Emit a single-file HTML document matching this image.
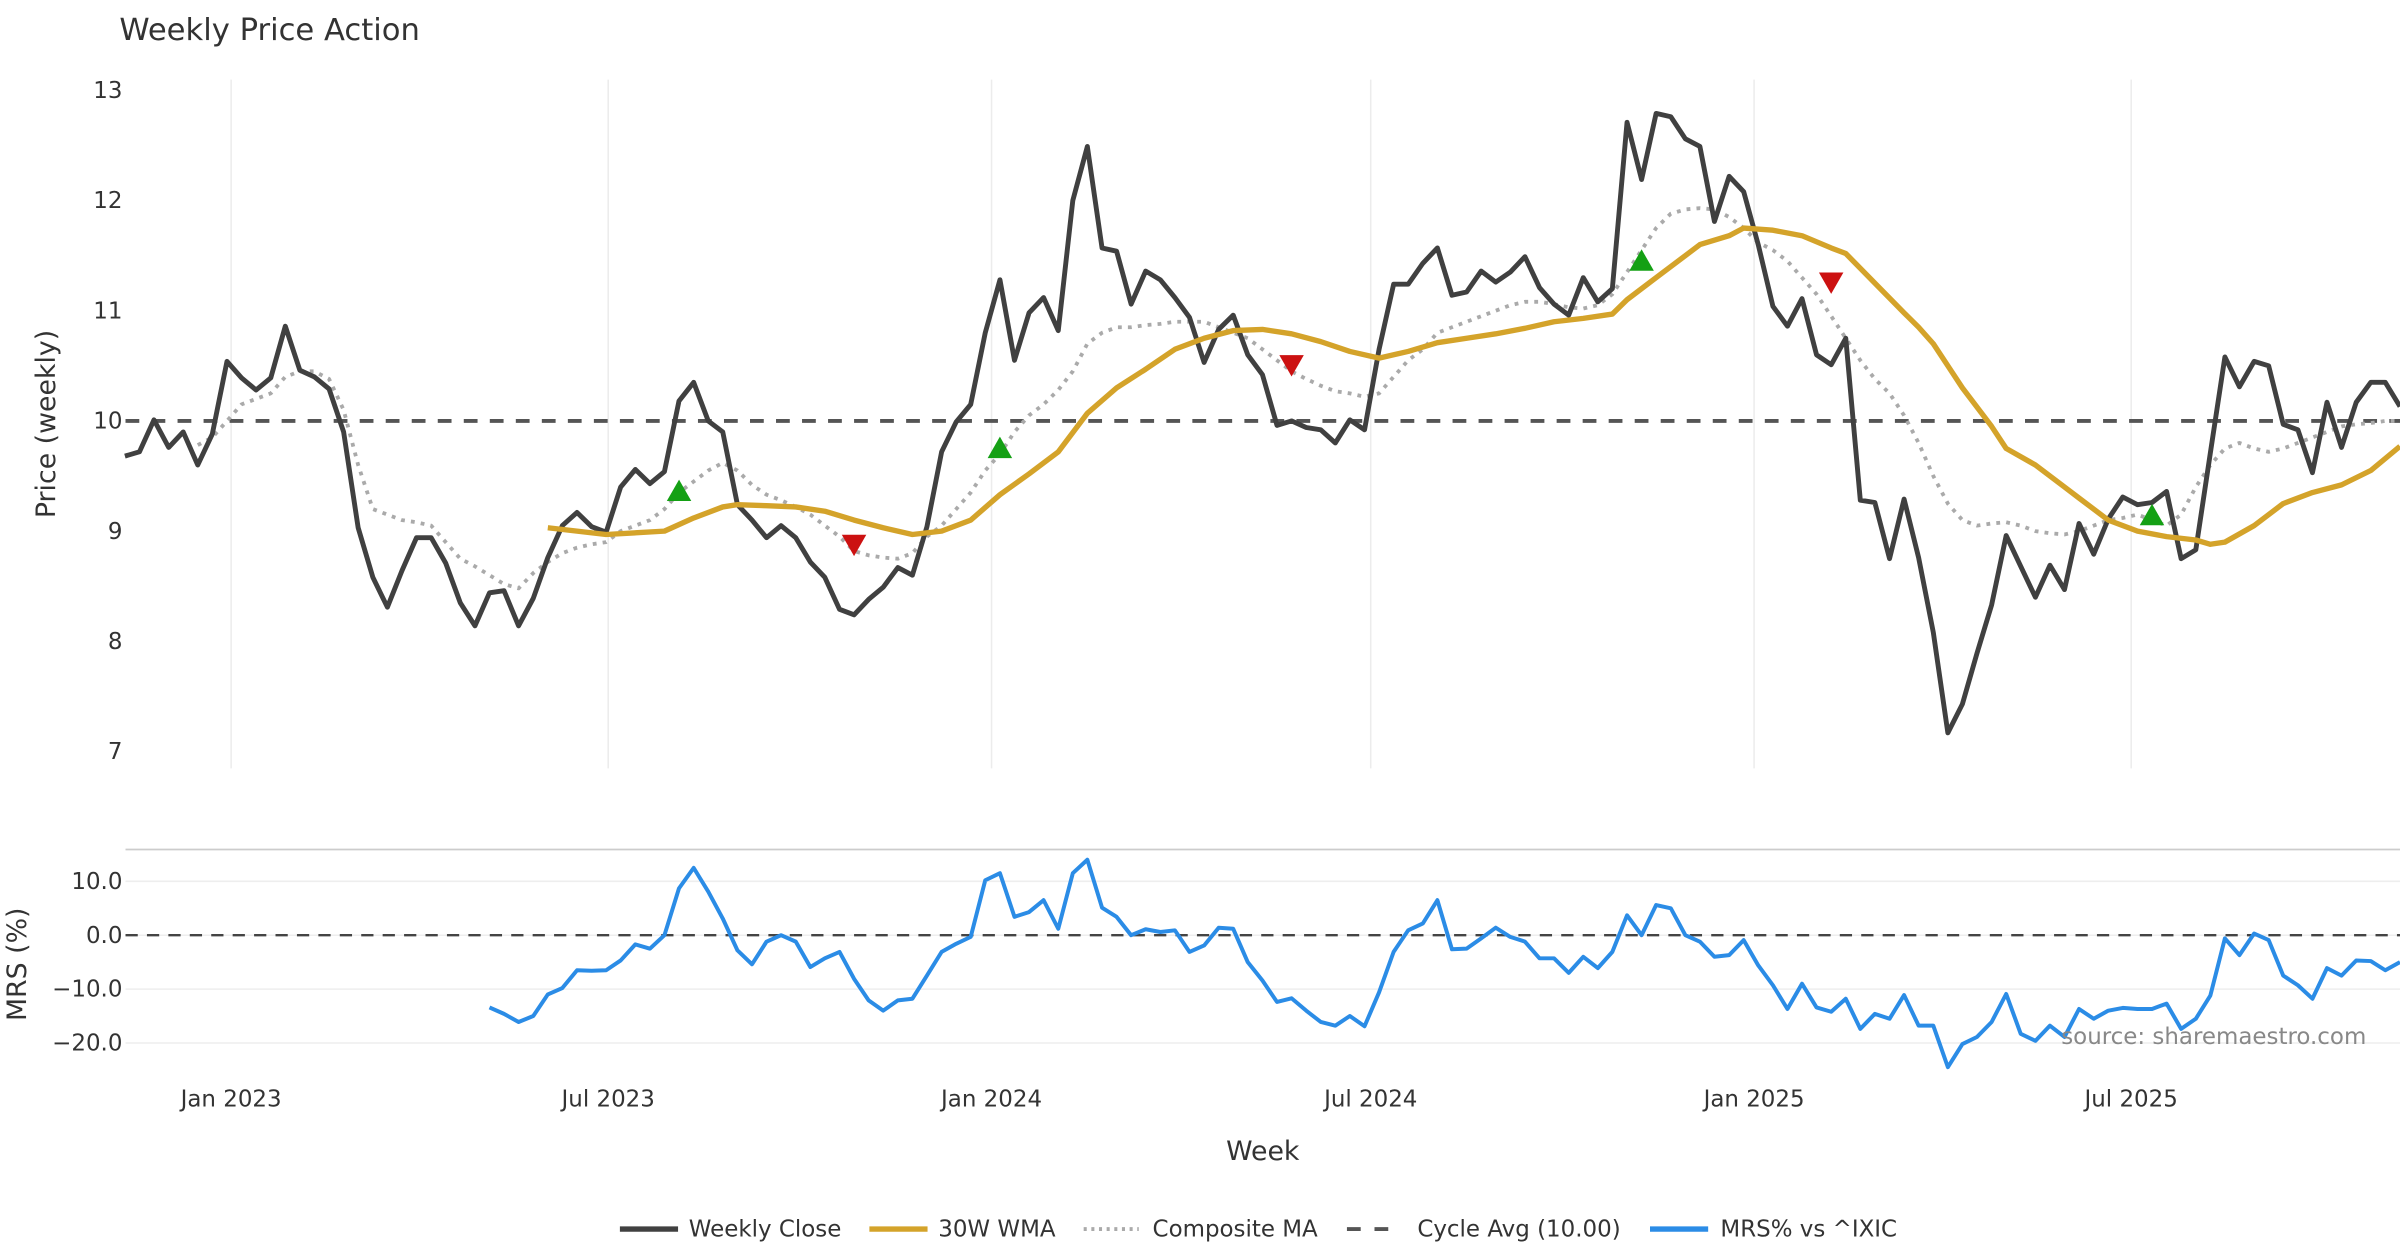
<!DOCTYPE html>
<html><head><meta charset="utf-8"><style>
html,body{margin:0;padding:0;background:#fff;}
svg{display:block;font-family:"DejaVu Sans","Liberation Sans",sans-serif;}
</style></head><body>
<svg id="chart" width="2400" height="1260" viewBox="0 0 1568 823.2" xmlns="http://www.w3.org/2000/svg">
<text x="78" y="26" font-size="20" fill="#333">Weekly Price Action</text>
<g id="grid"></g>
<g id="series"></g>
<text transform="translate(36,277) rotate(-90)" text-anchor="middle" font-size="17.5" fill="#333">Price (weekly)</text>
<text transform="translate(17,630) rotate(-90)" text-anchor="middle" font-size="17.5" fill="#333">MRS (%)</text>
<text x="825" y="758" text-anchor="middle" font-size="17.5" fill="#333">Week</text>
<text x="1546" y="682" text-anchor="end" font-size="15" fill="#888">source: sharemaestro.com</text>
<g id="legend" font-size="15" fill="#333">
<g><line x1="405" y1="803" x2="443" y2="803" stroke="#404040" stroke-width="3.5"/><text x="450" y="808">Weekly Close</text></g>
<g><line x1="568" y1="803" x2="606" y2="803" stroke="#d4a32a" stroke-width="3.5"/><text x="613" y="808">30W WMA</text></g>
<g><line x1="708" y1="803" x2="744" y2="803" stroke="#aaa" stroke-width="2.5" stroke-dasharray="2,3"/><text x="753" y="808">Composite MA</text></g>
<g><line x1="880" y1="803" x2="916" y2="803" stroke="#555" stroke-width="2.5" stroke-dasharray="9,9"/><text x="926" y="808">Cycle Avg (10.00)</text></g>
<g><line x1="1078" y1="803" x2="1116" y2="803" stroke="#2b8ce6" stroke-width="3.5"/><text x="1124" y="808">MRS% vs ^IXIC</text></g>
</g>
</svg>
<script>
const closeValues=[9.68,9.72,10.01,9.76,9.90,9.6,9.88,10.54,10.39,10.28,10.39,10.86,10.46,10.40,10.29,9.9,9.03,8.58,8.31,8.64,8.94,8.94,8.71,8.35,8.14,8.44,8.46,8.14,8.39,8.76,9.05,9.17,9.04,8.99,9.40,9.56,9.43,9.54,10.18,10.35,10.0,9.9,9.24,9.1,8.94,9.05,8.94,8.72,8.58,8.29,8.24,8.38,8.49,8.67,8.6,
9.04,9.72,9.99,10.15,10.8,11.28,10.55,10.98,11.12,10.82,12.0,12.49,11.57,11.54,11.06,11.36,11.28,11.12,10.94,
10.53,10.83,10.96,10.6,10.42,9.96,10.0,9.94,9.92,9.8,10.01,9.92,10.65,11.24,11.24,11.43,11.57,11.14,11.17,11.36,11.26,11.35,11.49,11.21,11.06,10.96,11.3,11.08,11.2,12.71,12.19,12.79,12.76,12.56,12.49,11.81,12.22,12.08,11.6,11.04,10.86,11.11,10.6,10.51,10.75,9.28,9.26,8.75,9.29,8.76,8.08,7.17,7.43,7.89,8.33,8.96,8.68,8.4,8.69,8.47,9.07,8.79,9.11,9.31,9.24,9.26,9.36,8.75,8.83,9.71,10.58,10.31,10.54,10.5,9.97,9.92,9.53,10.17,9.76,10.17,10.35,10.35,10.13];
const wmaWeeks=[29,33,37,39,41,42,44,46,48,50,52,54,56,58,60,62,64,66,68,70,72,74,76,78,80,82,84,86,88,90,92,94,96,98,100,102,103,105,107,108,110,111,113,115,117,118,120,122,123,124,125,126,128,129,131,133,134,136,138,140,142,143,144,146,148,150,152,154,156];
const wmaValues=[9.03,8.97,9.0,9.12,9.22,9.24,9.23,9.22,9.18,9.1,9.03,8.97,9.0,9.1,9.33,9.52,9.72,10.07,10.3,10.47,10.65,10.75,10.82,10.83,10.79,10.72,10.63,10.57,10.63,10.71,10.75,10.79,10.84,10.9,10.93,10.97,11.1,11.3,11.5,11.6,11.68,11.75,11.73,11.68,11.57,11.52,11.25,10.98,10.85,10.7,10.5,10.3,9.95,9.75,9.6,9.4,9.3,9.1,9.0,8.95,8.92,8.88,8.9,9.05,9.25,9.35,9.42,9.55,9.77];
const compositeStart=5;
const compositeValues=[9.78,9.85,10.0,10.15,10.2,10.25,10.4,10.45,10.45,10.38,10.1,9.6,9.2,9.15,9.1,9.08,9.05,8.9,8.75,8.68,8.6,8.52,8.48,8.62,8.72,8.8,8.85,8.88,8.9,9.0,9.05,9.1,9.2,9.35,9.45,9.55,9.62,9.55,9.42,9.33,9.28,9.22,9.15,9.05,8.95,8.82,8.78,8.76,8.75,8.8,8.95,9.05,9.2,9.35,9.55,9.7,9.9,10.05,10.15,10.28,10.45,10.7,10.8,10.85,10.85,10.87,10.88,10.9,10.9,10.9,10.85,10.8,10.75,10.65,10.55,10.45,10.38,10.32,10.27,10.25,10.22,10.25,10.4,10.55,10.65,10.8,10.85,10.9,10.95,11.0,11.05,11.08,11.08,11.06,11.03,11.02,11.05,11.15,11.35,11.55,11.75,11.88,11.92,11.93,11.92,11.85,11.75,11.62,11.55,11.45,11.3,11.15,10.95,10.75,10.55,10.38,10.25,10.05,9.8,9.5,9.25,9.1,9.05,9.07,9.08,9.05,9.0,8.98,8.97,9.0,9.05,9.1,9.12,9.15,9.1,9.05,9.15,9.4,9.6,9.75,9.8,9.75,9.72,9.75,9.8,9.85,9.9,9.95,9.97,9.98,10.0,10.0];
const buyWeeks=[38,60,104,139];
const buyValues=[9.37,9.76,11.46,9.15];
const sellWeeks=[50,80,117];
const sellValues=[8.87,10.5,11.25];
const mrsStart=25;
const mrsValues=[-13.4,-14.6,-16.1,-15,-11,-9.8,-6.5,-6.6,-6.5,-4.7,-1.7,-2.5,0,8.7,12.5,8.1,3.1,-2.8,-5.4,-1.2,0,-1.2,-5.9,-4.3,-3.1,-8.1,-12.1,-14,-12.1,-11.8,-7.5,-3.1,-1.6,-0.3,10.2,11.5,3.4,4.3,6.5,1.2,11.5,14,5.1,3.4,0,1.1,0.6,0.9,-3.1,-1.9,1.4,1.2,-5,-8.4,-12.4,-11.7,-14,-16.1,-16.8,-15,-16.9,-10.6,-3.1,0.9,2.2,6.5,-2.6,-2.5,-0.6,1.4,-0.3,-1.2,-4.3,-4.3,-7,-4,-6.1,-3.1,3.7,0,5.6,5,0,-1.2,-4,-3.7,-0.9,-5.6,-9.3,-13.7,-9,-13.4,-14.2,-11.8,-17.4,-14.6,-15.5,-11.1,-16.8,-16.8,-24.5,-20.2,-18.9,-16.1,-10.9,-18.3,-19.6,-16.8,-18.9,-13.7,-15.5,-14,-13.5,-13.7,-13.7,-12.7,-17.4,-15.5,-11.2,-0.6,-3.7,0.3,-0.9,-7.5,-9.3,-11.8,-6.1,-7.5,-4.7,-4.8,-6.5,-5];
const priceTicks=[7,8,9,10,11,12,13];
const mrsTicks=[10,0,-10,-20];
const mrsTickLabels=["10.0","0.0","\u221210.0","\u221220.0"];
const dateTickLabels=["Jan 2023","Jul 2023","Jan 2024","Jul 2024","Jan 2025","Jul 2025"];
const dateTicks=["2023-01-01","2023-07-01","2024-01-01","2024-07-01","2025-01-01","2025-07-01"];
const cycleAvg=10;

const NS="http://www.w3.org/2000/svg";
const D0=Date.UTC(2023,0,1), DAY=86400000, FIRST=Date.UTC(2022,10,11);
function xDate(t){return 151+(t-D0)/DAY*(995/731);}
function xWeek(i){return xDate(FIRST+i*7*DAY);}
function yP(v){return 59+(13-v)*72;}
function yM(v){return 611-v*3.52;}
function mk(tag,attrs,parent){const e=document.createElementNS(NS,tag);for(const k in attrs)e.setAttribute(k,attrs[k]);parent.appendChild(e);return e;}
const grid=document.getElementById('grid'), ser=document.getElementById('series');
dateTicks.forEach((d,i)=>{const p=d.split('-');const x=xDate(Date.UTC(+p[0],+p[1]-1,+p[2]));
 const g=mk('line',{x1:x,x2:x,y1:52,y2:502,stroke:'#ececec','stroke-width':1},grid);
 
 
 const t=mk('text',{x:x,y:723,'text-anchor':'middle','font-size':15,fill:'#333'},grid);t.textContent=dateTickLabels[i];
 
 
});
priceTicks.forEach(v=>{const t=mk('text',{x:80,y:yP(v)+5,'text-anchor':'end','font-size':15,fill:'#333'},grid);t.textContent=v;
 
 
});
const sep=mk('line',{x1:82,x2:1568,y1:555,y2:555,stroke:'#ccc','stroke-width':1.2},grid);


mrsTicks.forEach((v,i)=>{const y=yM(v);
 const l=mk('line',{x1:82,x2:1568,y1:y,y2:y,stroke:'#eee','stroke-width':1},grid);
 
 
 const t=mk('text',{x:80,y:y+5,'text-anchor':'end','font-size':15,fill:'#333'},grid);t.textContent=mrsTickLabels[i];
 
 
});
function path(pts,attrs,name){const p=mk('path',Object.assign({d:'M'+pts.map(q=>q[0].toFixed(1)+','+q[1].toFixed(1)).join('L'),fill:'none','stroke-linejoin':'round'},attrs),ser);
 
 
}
const cy=yP(cycleAvg);
const cl=mk('line',{x1:82,x2:1568,y1:cy,y2:cy,stroke:'#555','stroke-width':2.5,'stroke-dasharray':'9,8'},ser);


const zl=mk('line',{x1:82,x2:1568,y1:yM(0),y2:yM(0),stroke:'#444','stroke-width':1.5,'stroke-dasharray':'8,6'},ser);


path(compositeValues.map((v,i)=>[xWeek(i+compositeStart),yP(v)]),{stroke:'#aaa','stroke-width':2.5,'stroke-dasharray':'2.5,4'},'composite-ma-line');
path(closeValues.map((v,i)=>[xWeek(i),yP(v)]),{stroke:'#404040','stroke-width':3.2},'weekly-close-line');
path(wmaValues.map((v,i)=>[xWeek(wmaWeeks[i]),yP(v)]),{stroke:'#d4a32a','stroke-width':3.5},'wma-30w-line');
path(mrsValues.map((v,i)=>[xWeek(i+mrsStart),yM(v)]),{stroke:'#2b8ce6','stroke-width':2.6},'mrs-line');
buyWeeks.forEach((w,i)=>{const x=xWeek(w),y=yP(buyValues[i]);
 const t=mk('polygon',{points:`${x-8},${y+7} ${x+8},${y+7} ${x},${y-7}`,fill:'#14a014'},ser);
 
 
});
sellWeeks.forEach((w,i)=>{const x=xWeek(w),y=yP(sellValues[i]);
 const t=mk('polygon',{points:`${x-8},${y-7} ${x+8},${y-7} ${x},${y+7}`,fill:'#cc1111'},ser);
 
 
});
</script>
</body></html>
